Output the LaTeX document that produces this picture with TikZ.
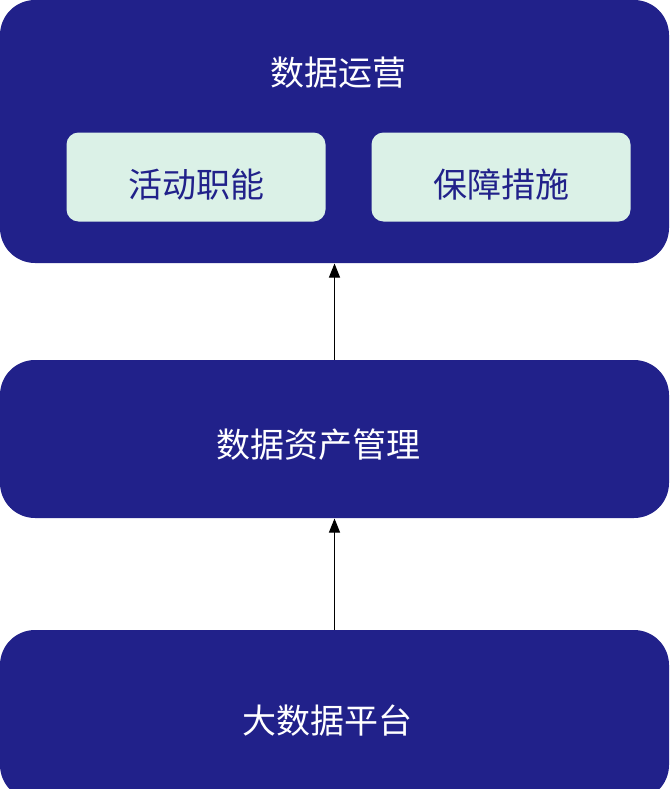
\documentclass[tikz,border=0pt]{standalone}
\usepackage{fontspec}
\newfontfamily\cjk{Noto Sans CJK SC}
\usepackage{tikz}
\usetikzlibrary{arrows.meta,positioning}
\definecolor{deepblue}{HTML}{21218A}
\definecolor{paleteal}{HTML}{DBF1E7}

\begin{document}
\begin{tikzpicture}[x=1pt,y=-1pt,->,>={Triangle[length=14pt,width=11pt]},line width=1pt]
	\tikzstyle{layer}=[fill=deepblue,draw=none,rounded corners=35pt,minimum width=669pt,inner sep=0pt,text=white,text height=36pt,text depth=0pt,font=\cjk\fontsize{34}{40}\selectfont]
	\tikzstyle{part}=[fill=paleteal,draw=none,rounded corners=12pt,minimum width=259pt,minimum height=89pt,inner sep=0pt,text=deepblue,text height=40pt,text depth=0pt,font=\cjk\fontsize{34}{40}\selectfont]

	\useasboundingbox (0,0) rectangle (669,789);

	\node[layer,minimum height=263pt]	(ops)	at (334.5,131.5)	{};
	\node[text=white,font=\cjk\fontsize{34}{40}\selectfont]	(opstitle)	at (338,73)	{数据运营};
	\node[part]	(act)	at (196,177)	{活动职能};
	\node[part]	(guard)	[right=45pt of act]	{保障措施};
	\node[layer,minimum height=158pt]	(asset)	at (334.5,439)	{数据资产管理\hspace*{32pt}};
	\node[layer,minimum height=170pt]	(base)	at (334.5,715)	{大数据平台\hspace*{15pt}};

	\path	(base)	edge	(asset)
		(asset)	edge	(ops);
\end{tikzpicture}
\end{document}
